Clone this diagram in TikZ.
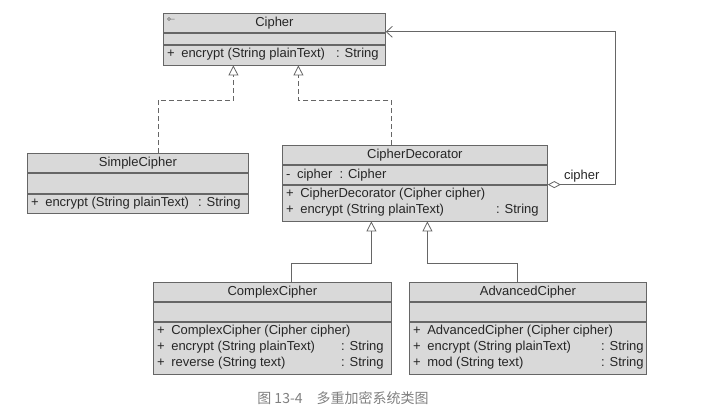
\documentclass[tikz,border=0pt]{standalone}
\usepackage{fontspec}
\setmainfont{Liberation Sans}
\newfontfamily\cjk{Noto Sans CJK SC}
\usetikzlibrary{positioning,arrows.meta}
\tikzset{
    compart/.style={draw=black!60, fill=black!15, line width=0.8pt, rectangle, inner sep=0pt,
        text=black!85, font=\fontsize{13}{15}\selectfont},
    member/.style={inner sep=0pt, anchor=west, text=black!85, font=\fontsize{13}{15}\selectfont},
    rtype/.style={member, anchor=east},
    realize/.style={draw=black!60, line width=0.8pt, dash pattern=on 5pt off 3pt,
        -{Triangle[open, length=10pt, width=10pt]}},
    inherit/.style={draw=black!60, line width=0.8pt, -{Triangle[open, length=10pt, width=10pt]}},
    assoc/.style={draw=black!60, line width=0.8pt,
        {Diamond[open, length=13pt, width=7pt]}-{Straight Barb[length=6pt, width=11pt]}}
}
\begin{document}
\begin{tikzpicture}[x=1pt, y=-1pt]
    \useasboundingbox (0,0) rectangle (705,416);
    % Cipher
    \node[compart, anchor=north west, minimum width=222pt, minimum height=19pt] (cipherName) at (163,13) {Cipher};
    \node[compart, minimum width=222pt, minimum height=11pt, below=0pt of cipherName] (cipherAttr) {};
    \node[compart, minimum width=222pt, minimum height=20pt, below=0pt of cipherAttr] (cipherOps) {};
    \draw[black!60, line width=0.5pt] ([shift={(6,6)}]cipherName.north west) circle[radius=1.5pt] ++(1.5,0) -- ++(4,0);
    \node[member] (cipherEnc) at ([shift={(4,10)}]cipherOps.north west) {+\enspace encrypt (String plainText)};
    \node[rtype] (cipherEncT) at ([shift={(-7,10)}]cipherOps.north east) {: String};
    % SimpleCipher
    \node[compart, anchor=north west, minimum width=221pt, minimum height=19pt] (simpleName) at (27,153) {SimpleCipher};
    \node[compart, minimum width=221pt, minimum height=20pt, below=0pt of simpleName] (simpleAttr) {};
    \node[compart, minimum width=221pt, minimum height=19pt, below=0pt of simpleAttr] (simpleOps) {};
    \node[member] (simpleEnc) at ([shift={(4,10)}]simpleOps.north west) {+\enspace encrypt (String plainText)};
    \node[rtype] (simpleEncT) at ([shift={(-8,10)}]simpleOps.north east) {: String};
    % CipherDecorator
    \node[compart, anchor=north west, minimum width=265pt, minimum height=19pt] (decoName) at (282,145) {CipherDecorator};
    \node[compart, minimum width=265pt, minimum height=19pt, below=0pt of decoName] (decoAttr) {};
    \node[compart, minimum width=265pt, minimum height=36pt, below=0pt of decoAttr] (decoOps) {};
    \node[member] (decoField) at ([shift={(4,10)}]decoAttr.north west) {-\enspace cipher\ \ : Cipher};
    \node[member] (decoCtor) at ([shift={(4,10)}]decoOps.north west) {+\enspace CipherDecorator (Cipher cipher)};
    \node[member] (decoEnc) at ([shift={(4,26)}]decoOps.north west) {+\enspace encrypt (String plainText)};
    \node[rtype] (decoEncT) at ([shift={(-9,26)}]decoOps.north east) {: String};
    % ComplexCipher
    \node[compart, anchor=north west, minimum width=238pt, minimum height=19pt] (complexName) at (153,282) {ComplexCipher};
    \node[compart, minimum width=238pt, minimum height=19pt, below=0pt of complexName] (complexAttr) {};
    \node[compart, minimum width=238pt, minimum height=52pt, below=0pt of complexAttr] (complexOps) {};
    \node[member] (complexCtor) at ([shift={(4,10)}]complexOps.north west) {+\enspace ComplexCipher (Cipher cipher)};
    \node[member] (complexEnc) at ([shift={(4,26)}]complexOps.north west) {+\enspace encrypt (String plainText)};
    \node[member] (complexRev) at ([shift={(4,42)}]complexOps.north west) {+\enspace reverse (String text)};
    \node[rtype] (complexEncT) at ([shift={(-8,26)}]complexOps.north east) {: String};
    \node[rtype] (complexRevT) at ([shift={(-8,42)}]complexOps.north east) {: String};
    % AdvancedCipher
    \node[compart, anchor=north west, minimum width=237pt, minimum height=19pt] (advName) at (409,282) {AdvancedCipher};
    \node[compart, minimum width=237pt, minimum height=19pt, below=0pt of advName] (advAttr) {};
    \node[compart, minimum width=237pt, minimum height=52pt, below=0pt of advAttr] (advOps) {};
    \node[member] (advCtor) at ([shift={(4,10)}]advOps.north west) {+\enspace AdvancedCipher (Cipher cipher)};
    \node[member] (advEnc) at ([shift={(4,26)}]advOps.north west) {+\enspace encrypt (String plainText)};
    \node[member] (advMod) at ([shift={(4,42)}]advOps.north west) {+\enspace mod (String text)};
    \node[rtype] (advEncT) at ([shift={(-3,26)}]advOps.north east) {: String};
    \node[rtype] (advModT) at ([shift={(-3,42)}]advOps.north east) {: String};
    % relations
    \draw[realize] ([xshift=20pt]simpleName.north) -- ++(0,-53) -| ([xshift=-41pt]cipherOps.south);
    \draw[realize] ([xshift=-23.5pt]decoName.north) -- ++(0,-45) -| ([xshift=24pt]cipherOps.south);
    \draw[inherit] ([xshift=19pt]complexName.north) -- ++(0,-19) -| ([xshift=-43.5pt]decoOps.south);
    \draw[inherit] ([xshift=-10.5pt]advName.north) -- ++(0,-19) -| ([xshift=12.5pt]decoOps.south);
    \draw[assoc] (decoAttr.south east) -- node[above=2pt, member, anchor=south] (roleLabel) {cipher} ++(68,0)
        |- ([yshift=1pt]cipherName.south east);
    \node[text=black!50, font=\cjk\fontsize{14}{16}\selectfont] (caption) at (343,398) {图 13-4\quad 多重加密系统类图};
\end{tikzpicture}
\end{document}
